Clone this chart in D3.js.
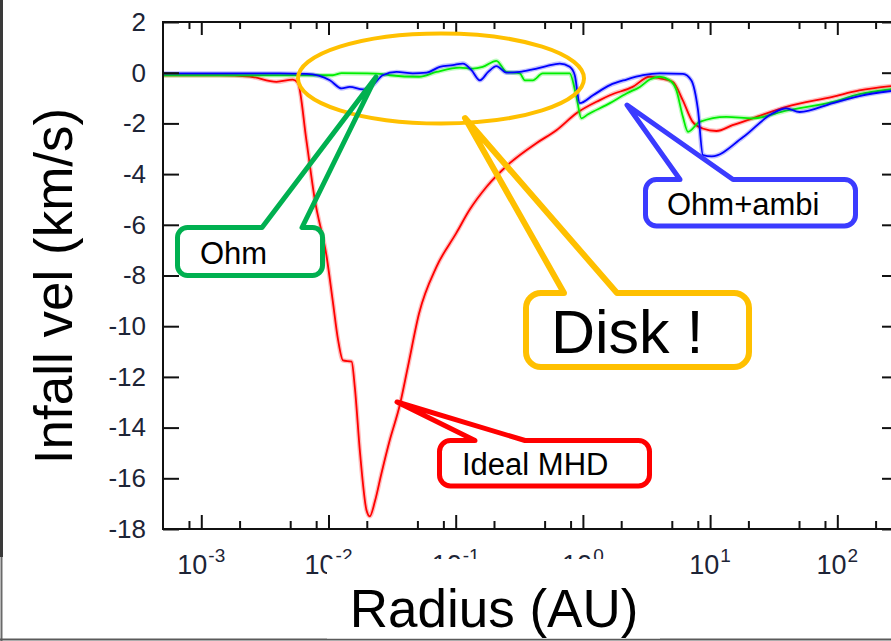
<!DOCTYPE html>
<html>
<head>
<meta charset="utf-8">
<script src="https://cdn.jsdelivr.net/npm/d3@7"></script>
<style>
  body { margin: 0; background: #fff; }
  svg { display: block; }
  text { font-family: "Liberation Sans", Arial, sans-serif; }
</style>
</head>
<body>
<svg id="chart" width="891" height="641"></svg>
<script>
// values: radius (AU) and infall velocity (km/s)
const idealR = [5e-4, 1.4e-3, 2.4e-3, 3.9e-3, 5.25e-3, 5.75e-3, 6.7e-3, 7.8e-3, 9.7e-3, 0.0108, 0.0119, 0.013, 0.0152, 0.0161, 0.0177, 0.0199, 0.0211, 0.0232, 0.0261, 0.0303, 0.0364, 0.0421, 0.0515, 0.0706, 0.101, 0.129, 0.175, 0.266, 0.431, 0.619, 0.889, 1.36, 1.63, 2.46, 3.35, 4.01, 5.08, 6.09, 7.29, 8.74, 11.2, 15.0, 21.6, 39.7, 91.7, 149, 300]
const idealV = [-0.1, -0.1, -0.15, -0.36, -0.27, -0.4, -2.66, -5.0, -7.3, -9.0, -10.55, -11.35, -11.4, -12.4, -15.0, -17.26, -17.5, -16.9, -15.8, -14.5, -13.1, -11.6, -9.5, -7.66, -6.33, -5.4, -4.5, -3.57, -2.78, -2.27, -1.6, -1.08, -0.89, -0.56, -0.16, -0.22, -0.36, -1.08, -1.94, -2.2, -2.3, -2.07, -1.8, -1.35, -0.95, -0.7, -0.5]

const ohmR = [5e-4, 5.97e-3, 0.0108, 0.0127, 0.0199, 0.0254, 0.0303, 0.0515, 0.0706, 0.108, 0.136, 0.163, 0.209, 0.251, 0.319, 0.35, 0.404, 0.483, 0.787, 0.889, 0.973, 1.09, 1.63, 2.2, 2.8, 3.35, 4.01, 4.81, 5.43, 6.11, 6.7, 8.27, 13.4, 21.7, 39.7, 92.3, 149, 300]
const ohmV = [-0.1, -0.1, -0.1, -0.02, -0.03, -0.05, -0.1, -0.16, 0.03, 0.2, 0.16, 0.23, 0.47, 0.03, -0.03, -0.3, -0.3, -0.03, -0.03, -0.95, -1.8, -1.65, -1.2, -0.82, -0.56, -0.27, -0.16, -0.3, -0.69, -1.74, -2.33, -1.94, -1.74, -1.8, -1.5, -1.15, -0.85, -0.62]

const ambiR = [5e-4, 4.15e-3, 6.73e-3, 0.01025, 0.0127, 0.0147, 0.0186, 0.0223, 0.0267, 0.0343, 0.046, 0.059, 0.075, 0.0949, 0.114, 0.133, 0.155, 0.18, 0.209, 0.251, 0.319, 0.404, 0.517, 0.658, 0.787, 0.863, 0.944, 1.2, 1.63, 2.2, 2.97, 4.01, 6.11, 7.11, 8.02, 8.78, 10.3, 18.1, 31.1, 39.7, 50.5, 92.3, 149, 300]
const ambiV = [-0.03, -0.03, -0.05, -0.3, -0.62, -0.56, -0.66, -0.49, -0.1, 0.03, -0.03, 0, 0.23, 0.3, 0.36, 0.1, -0.3, 0.03, 0.26, 0, 0.03, 0.13, 0.26, 0.36, 0.23, -0.1, -1.2, -0.89, -0.49, -0.27, -0.1, -0.03, -0.05, -0.3, -1.45, -3.25, -3.3, -2.55, -1.6, -1.41, -1.55, -1.2, -0.92, -0.69]

const yTicks = [2, 0, -2, -4, -6, -8, -10, -12, -14, -16, -18]
const xMajor = [1e-3, 1e-2, 1e-1, 1e0, 1e1, 1e2]
const xExponents = ['-3', '-2', '-1', '0', '1', '2']
const minorMult = [2, 5, 8]

const svg = d3.select('#chart')
const plot = { left: 163, top: 22, right: 898, bottom: 529 }

const x = d3.scaleLog().domain([5e-4, 300]).range([plot.left, plot.right])
const y = d3.scaleLinear().domain([-18, 2]).range([plot.bottom, plot.top])

const xMinor = []
;[1e-4, 1e-3, 1e-2, 1e-1, 1, 10, 100].forEach(d => minorMult.forEach(m => {
    const v = d * m
    if (v > 5e-4 && v < 300) xMinor.push(v)
}))

// slide borders
svg.append('rect').attr('x', 0).attr('y', 0).attr('width', 3).attr('height', 557).attr('fill', '#3a3a3a')
svg.append('line').attr('x1', 1.5).attr('x2', 1.5).attr('y1', 557).attr('y2', 641).attr('stroke', '#6a6a6a').attr('stroke-width', 2)
svg.append('line').attr('x1', 0).attr('x2', 891).attr('y1', 639.5).attr('y2', 639.5).attr('stroke', '#5a5a5a').attr('stroke-width', 2)

// curves
const clip = svg.append('clipPath').attr('id', 'clip')
clip.append('rect').attr('x', plot.left).attr('y', plot.top)
    .attr('width', plot.right - plot.left).attr('height', plot.bottom - plot.top)

const line = d3.line().x(d => x(d[0])).y(d => y(d[1])).curve(d3.curveMonotoneX)
const series = [
    { r: idealR, v: idealV, color: '#ff0000' },
    { r: ohmR, v: ohmV, color: '#00ee00' },
    { r: ambiR, v: ambiV, color: '#0000ff' }
]
const curves = svg.append('g').attr('clip-path', 'url(#clip)')
series.forEach(s => {
    const pts = s.r.map((r, i) => [r, s.v[i]])
    curves.append('path').attr('d', line(pts)).attr('fill', 'none')
        .attr('stroke', s.color).attr('stroke-opacity', 0.25).attr('stroke-width', 4.5)
    curves.append('path').attr('d', line(pts)).attr('fill', 'none')
        .attr('stroke', s.color).attr('stroke-width', 1.8).attr('stroke-linejoin', 'round')
})

// axes & frame
const styleAxis = g => {
    g.select('.domain').remove()
    g.selectAll('.tick line').attr('stroke', '#111').attr('stroke-width', 2)
}
svg.append('g').attr('transform', `translate(${plot.left},0)`)
    .call(d3.axisLeft(y).tickValues(yTicks).tickSize(-16).tickPadding(17).tickFormat(d => String(d)))
    .call(styleAxis)
    .call(g => g.selectAll('text').attr('font-size', 26).attr('fill', '#1d2436')
        .attr('font-family', '"Liberation Sans", Arial, sans-serif'))
svg.append('g').attr('transform', `translate(${plot.right},0)`)
    .call(d3.axisRight(y).tickValues(yTicks).tickSize(-16).tickFormat(''))
    .call(styleAxis)
svg.append('g').attr('transform', `translate(0,${plot.bottom})`)
    .call(d3.axisBottom(x).tickValues(xMajor).tickSize(-14).tickFormat(''))
    .call(styleAxis)
svg.append('g').attr('transform', `translate(0,${plot.bottom})`)
    .call(d3.axisBottom(x).tickValues(xMinor).tickSize(-8).tickFormat(''))
    .call(styleAxis)
svg.append('g').attr('transform', `translate(0,${plot.top})`)
    .call(d3.axisTop(x).tickValues(xMajor).tickSize(-13).tickFormat(''))
    .call(styleAxis)
svg.append('g').attr('transform', `translate(0,${plot.top})`)
    .call(d3.axisTop(x).tickValues(xMinor).tickSize(-7).tickFormat(''))
    .call(styleAxis)
svg.append('rect').attr('x', plot.left).attr('y', plot.top)
    .attr('width', plot.right - plot.left).attr('height', plot.bottom - plot.top)
    .attr('fill', 'none').attr('stroke', '#111').attr('stroke-width', 2)

// x tick labels 10^n
const xl = svg.append('g')
xMajor.forEach((d, i) => {
    const t = xl.append('text').attr('x', x(d)).attr('y', 574).attr('text-anchor', 'middle')
        .attr('fill', '#1d2436')
    t.append('tspan').attr('font-size', 27).text('10')
    t.append('tspan').attr('font-size', 19).attr('dy', -12).attr('dx', 1).text(xExponents[i])
})

// axis titles
svg.append('rect').attr('x', 327).attr('y', 559).attr('width', 333).attr('height', 79.5).attr('fill', '#fff')
svg.append('text').attr('x', 494).attr('y', 627).attr('text-anchor', 'middle')
    .attr('font-size', 53).attr('fill', '#000').text('Radius (AU)')
svg.append('text').attr('transform', 'translate(72,286) rotate(-90)').attr('text-anchor', 'middle')
    .attr('font-size', 53).attr('fill', '#000').text('Infall vel (km/s)')

// annotations
svg.append('ellipse').attr('cx', 441).attr('cy', 78.5).attr('rx', 143).attr('ry', 45)
    .attr('fill', 'none').attr('stroke', '#ffc000').attr('stroke-width', 4)

function calloutPath(x0, y0, x1, y1, r, bl, br, tip) {
    return `M${x0 + r},${y0} L${bl},${y0} L${tip[0]},${tip[1]} L${br},${y0} L${x1 - r},${y0}
        A${r},${r} 0 0 1 ${x1},${y0 + r} L${x1},${y1 - r} A${r},${r} 0 0 1 ${x1 - r},${y1}
        L${x0 + r},${y1} A${r},${r} 0 0 1 ${x0},${y1 - r} L${x0},${y0 + r} A${r},${r} 0 0 1 ${x0 + r},${y0} Z`
}

const callouts = [
    { box: [177.5, 227.5, 322.5, 275.5], r: 10, base: [262, 302], tip: [376, 77], color: '#00b050', sw: 5,
      label: 'Ohm', tx: 200, ty: 264, fs: 31 },
    { box: [526, 293, 749, 367], r: 15, base: [564, 617], tip: [465, 118], color: '#ffc000', sw: 6,
      label: 'Disk !', tx: 551, ty: 353, fs: 61 },
    { box: [645.5, 179.5, 855.5, 226], r: 11, base: [680, 733], tip: [627, 105], color: '#3b3bff', sw: 5,
      label: 'Ohm+ambi', tx: 667, ty: 215, fs: 31 },
    { box: [439.5, 440.5, 649.5, 486], r: 11, base: [475, 525], tip: [397, 402], color: '#ff0000', sw: 5,
      label: 'Ideal MHD', tx: 462, ty: 475, fs: 31 }
]
callouts.forEach(c => {
    svg.append('path').attr('d', calloutPath(...c.box, c.r, c.base[0], c.base[1], c.tip))
        .attr('fill', 'none').attr('stroke', c.color).attr('stroke-width', c.sw)
        .attr('stroke-linejoin', 'round')
    svg.append('text').attr('x', c.tx).attr('y', c.ty).attr('font-size', c.fs)
        .attr('fill', '#000').text(c.label)
})
</script>
</body>
</html>
